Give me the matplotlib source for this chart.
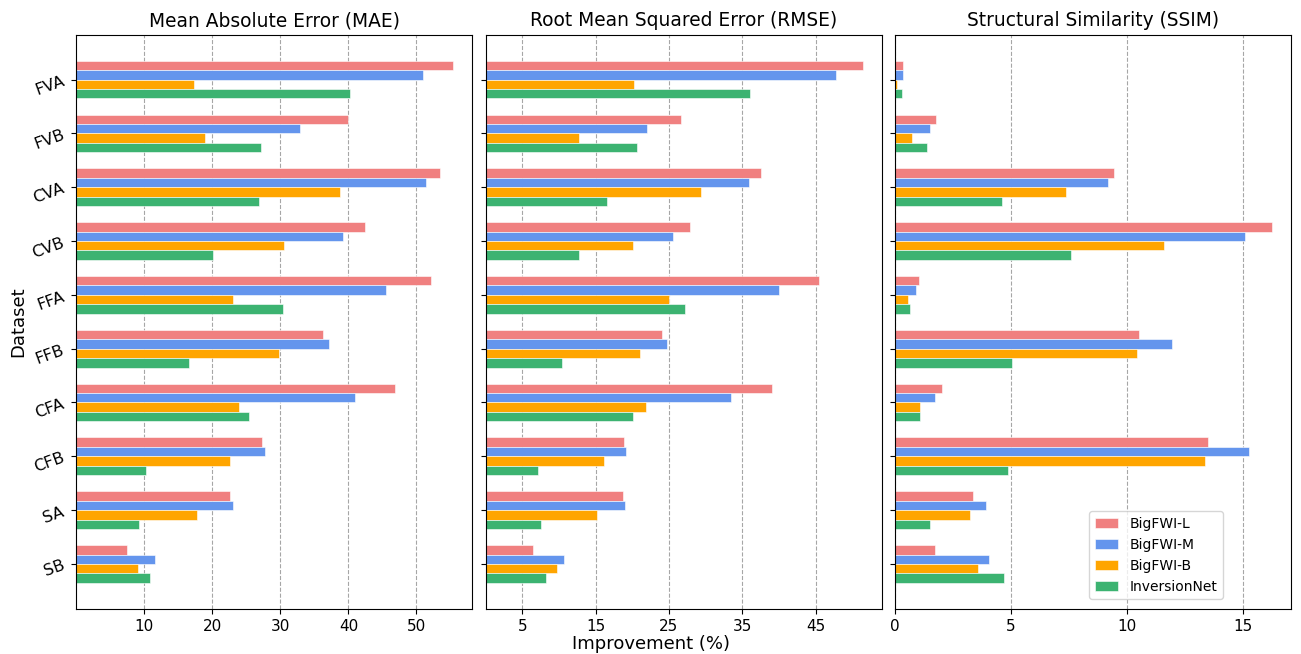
import numpy as np
import matplotlib.pyplot as plt

# datasets, top to bottom
datasets = ['FVA', 'FVB', 'CVA', 'CVB', 'FFA', 'FFB', 'CFA', 'CFB', 'SA', 'SB']
models = ['BigFWI-L', 'BigFWI-M', 'BigFWI-B', 'InversionNet']
colors = ['lightcoral', 'cornflowerblue', 'orange', 'mediumseagreen']

# improvement (%) per metric, one list per model
mae_L = [55.4, 40.0, 53.5, 42.5, 52.1, 36.3, 46.8, 27.3, 22.6, 7.5]
mae_M = [51.0, 32.9, 51.4, 39.2, 45.5, 37.1, 40.9, 27.8, 23.1, 11.6]
mae_B = [17.3, 19.0, 38.7, 30.5, 23.1, 29.8, 24.0, 22.6, 17.7, 9.1]
mae_I = [40.2, 27.1, 26.9, 20.1, 30.4, 16.6, 25.4, 10.2, 9.2, 10.9]

rmse_L = [51.4, 26.6, 37.6, 27.8, 45.5, 24.1, 39.1, 18.9, 18.8, 6.5]
rmse_M = [47.8, 22.0, 35.9, 25.6, 40.0, 24.7, 33.4, 19.2, 19.0, 10.7]
rmse_B = [20.2, 12.7, 29.3, 20.1, 25.0, 21.0, 21.8, 16.2, 15.2, 9.8]
rmse_I = [36.1, 20.6, 16.5, 12.8, 27.2, 10.4, 20.1, 7.1, 7.5, 8.3]

ssim_L = [0.33, 1.79, 9.43, 16.27, 1.04, 10.52, 2.02, 13.52, 3.35, 1.72]
ssim_M = [0.33, 1.51, 9.20, 15.12, 0.89, 11.95, 1.72, 15.29, 3.93, 4.05]
ssim_B = [0.10, 0.75, 7.38, 11.60, 0.56, 10.43, 1.10, 13.39, 3.23, 3.60]
ssim_I = [0.30, 1.40, 4.63, 7.60, 0.65, 5.04, 1.10, 4.89, 1.49, 4.69]

titles = ['Mean Absolute Error (MAE)', 'Root Mean Squared Error (RMSE)',
          'Structural Similarity (SSIM)']
panels = [[mae_L, mae_M, mae_B, mae_I],
          [rmse_L, rmse_M, rmse_B, rmse_I],
          [ssim_L, ssim_M, ssim_B, ssim_I]]
xticks = [[10, 20, 30, 40, 50], [5, 15, 25, 35, 45], [0, 5, 10, 15]]

fig, axes = plt.subplots(1, 3, figsize=(13.01, 6.54), dpi=100, sharey=True)
fig.subplots_adjust(left=0.0585, right=0.9923, top=0.947, bottom=0.069, wspace=0.034)

h = 0.175
y = np.arange(len(datasets))[::-1]  # FVA on top
for ax, title, series, ticks in zip(axes, titles, panels, xticks):
    for i, (vals, c, m) in enumerate(zip(series, colors, models)):
        ax.barh(y + (1.5 - i) * h, vals, height=h, color=c, label=m,
                edgecolor='white', linewidth=0.4)
    ax.set_title(title, fontsize=13.4)
    ax.set_xticks(ticks)
    ax.tick_params(axis='x', labelsize=11)
    ax.grid(axis='x', linestyle='--', color='gray', alpha=0.7)
    ax.set_axisbelow(True)

axes[0].set_yticks(y)
axes[0].set_yticklabels(datasets, rotation=20, fontsize=11.5)
axes[0].set_ylabel('Dataset', fontsize=13, labelpad=2)
fig.supxlabel('Improvement (%)', fontsize=13, y=0.002)
axes[2].legend(loc='lower right', bbox_to_anchor=(0.845, 0.005), fontsize=10,
               handlelength=1.7)

fig.savefig('out.png')
